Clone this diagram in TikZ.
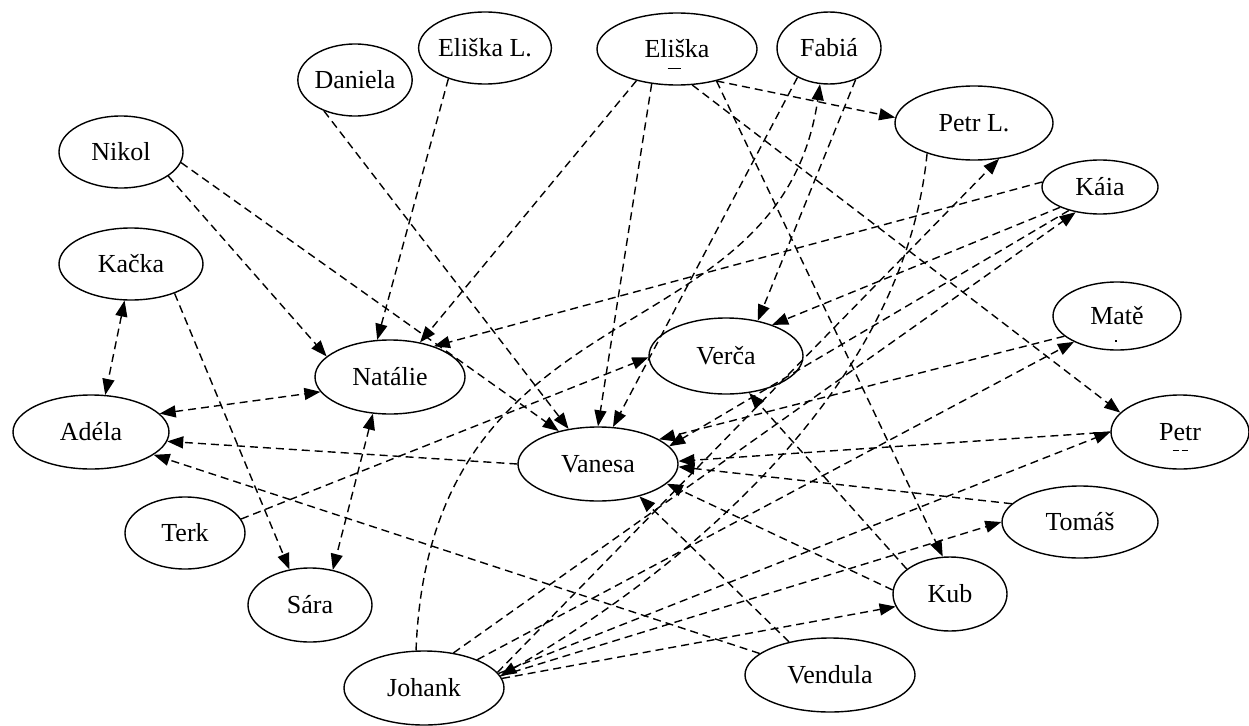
\documentclass[tikz,border=0pt]{standalone}
\usepackage{fontspec}
\setmainfont{Liberation Serif}
\usetikzlibrary{arrows.meta,shapes.geometric}
\begin{document}
\begin{tikzpicture}[x=1pt,y=-1pt,
  person/.style={draw, ellipse, line width=1.4pt, inner sep=0pt, font=\fontsize{26}{30}\selectfont},
  link/.style={line width=1.4pt, dash pattern=on 8pt off 5pt, -{Triangle[length=16pt,width=12pt]}},
  both/.style={line width=1.4pt, dash pattern=on 8pt off 5pt, {Triangle[length=16pt,width=12pt]}-{Triangle[length=16pt,width=12pt]}},
  tick/.style={inner sep=0pt, outer sep=0pt}
]
\useasboundingbox (0,0) rectangle (1249,725);
% nodes
\node[person, minimum width=114, minimum height=72] (daniela) at (355,80) {Daniela};
\node[person, minimum width=124, minimum height=72] (elL) at (485,48) {Eliška L.};
\node[person, minimum width=160, minimum height=72] (el) at (677,49) {Eliška};
\node[person, minimum width=104, minimum height=72] (fabia) at (829,48) {Fabiá};
\node[person, minimum width=158, minimum height=74] (petrL) at (974,123) {Petr L.};
\node[person, minimum width=124, minimum height=72] (nikol) at (121,152) {Nikol};
\node[person, minimum width=116, minimum height=54] (kaia) at (1100,187) {Káia};
\node[person, minimum width=144, minimum height=72] (kacka) at (131,264) {Kačka};
\node[person, minimum width=150, minimum height=74] (natalie) at (390,377) {Natálie};
\node[person, minimum width=154, minimum height=76] (verca) at (726,356) {Verča};
\node[person, minimum width=128, minimum height=68] (mate) at (1117,316) {Matě};
\node[person, minimum width=156, minimum height=74] (adela) at (91,432) {Adéla};
\node[person, minimum width=138, minimum height=74] (petr) at (1180,432) {Petr};
\node[person, minimum width=160, minimum height=74] (vanesa) at (598,464) {Vanesa};
\node[person, minimum width=120, minimum height=72] (terk) at (185,533) {Terk};
\node[person, minimum width=156, minimum height=72] (tomas) at (1080,522) {Tomáš};
\node[person, minimum width=114, minimum height=74] (kub) at (950,594) {Kub};
\node[person, minimum width=124, minimum height=74] (sara) at (310,605) {Sára};
\node[person, minimum width=160, minimum height=74] (johank) at (424,688) {Johank};
\node[person, minimum width=170, minimum height=74] (vendula) at (830,675) {Vendula};
% small marks under some names
\node[tick] (elmark) at (674,68) {\rule{13pt}{1pt}};
\node[tick] (matemark) at (1116,341) {\rule{1.5pt}{1.5pt}};
\node[tick] (petrmark) at (1180,450) {\rule{6pt}{1pt}\hspace{3pt}\rule{6pt}{1pt}};
% edges
\draw[link] (nikol.-27) -- (natalie.162);
\draw[link] (nikol.-10) -- (vanesa.140);
\draw[link] (daniela.-135) -- (vanesa.130);
\draw[link] (elL.-140) -- (natalie.109);
\draw[link] (el.-142) -- (natalie.49);
\draw[link] (el.-126) -- (vanesa.90);
\draw[link] (fabia.-137) -- (vanesa.68);
\draw[link] (el.-39) -- (petrL.176);
\draw[link] (el.-67) -- (petr.162);
\draw[link] (el.-39) -- (kub.101);
\draw[link] (fabia.-50) -- (verca.48);
\draw[link] (johank.102) .. controls (430,280) and (780,360) .. (fabia.-104);
\draw[link] (petrL.-147) .. controls (905,380) and (700,560) .. (johank.9);
\draw[link] (johank.12) -- (petrL.-55);
\draw[link] (johank.50) -- (kaia.-134);
\draw[link] (johank.28) -- (mate.-149);
\draw[link] (johank.11) -- (petr.180);
\draw[link] (johank.9) -- (tomas.180);
\draw[link] (johank.7) -- (kub.-167);
\draw[link] (kaia.175) -- (natalie.35);
\draw[link] (kaia.-153) -- (verca.34);
\draw[link] (kaia.-143) -- (vanesa.14);
\draw[link] (mate.-159) -- (vanesa.22);
\draw[link] (petr.180) -- (vanesa.2);
\draw[link] (tomas.165) -- (vanesa.-2);
\draw[link] (kub.176) -- (vanesa.-16);
\draw[link] (kub.150) -- (verca.-58);
\draw[link] (vendula.141) -- (vanesa.-38);
\draw[link] (vendula.163) -- (adela.-20);
\draw[link] (vanesa.180) -- (adela.-7);
\draw[both] (adela.15) -- (natalie.-168);
\draw[both] (kacka.-100) -- (adela.69);
\draw[link] (kacka.-34) -- (sara.120);
\draw[both] (natalie.-115) -- (sara.57);
\draw[link] (terk.14) -- (verca.181);
\end{tikzpicture}
\end{document}
